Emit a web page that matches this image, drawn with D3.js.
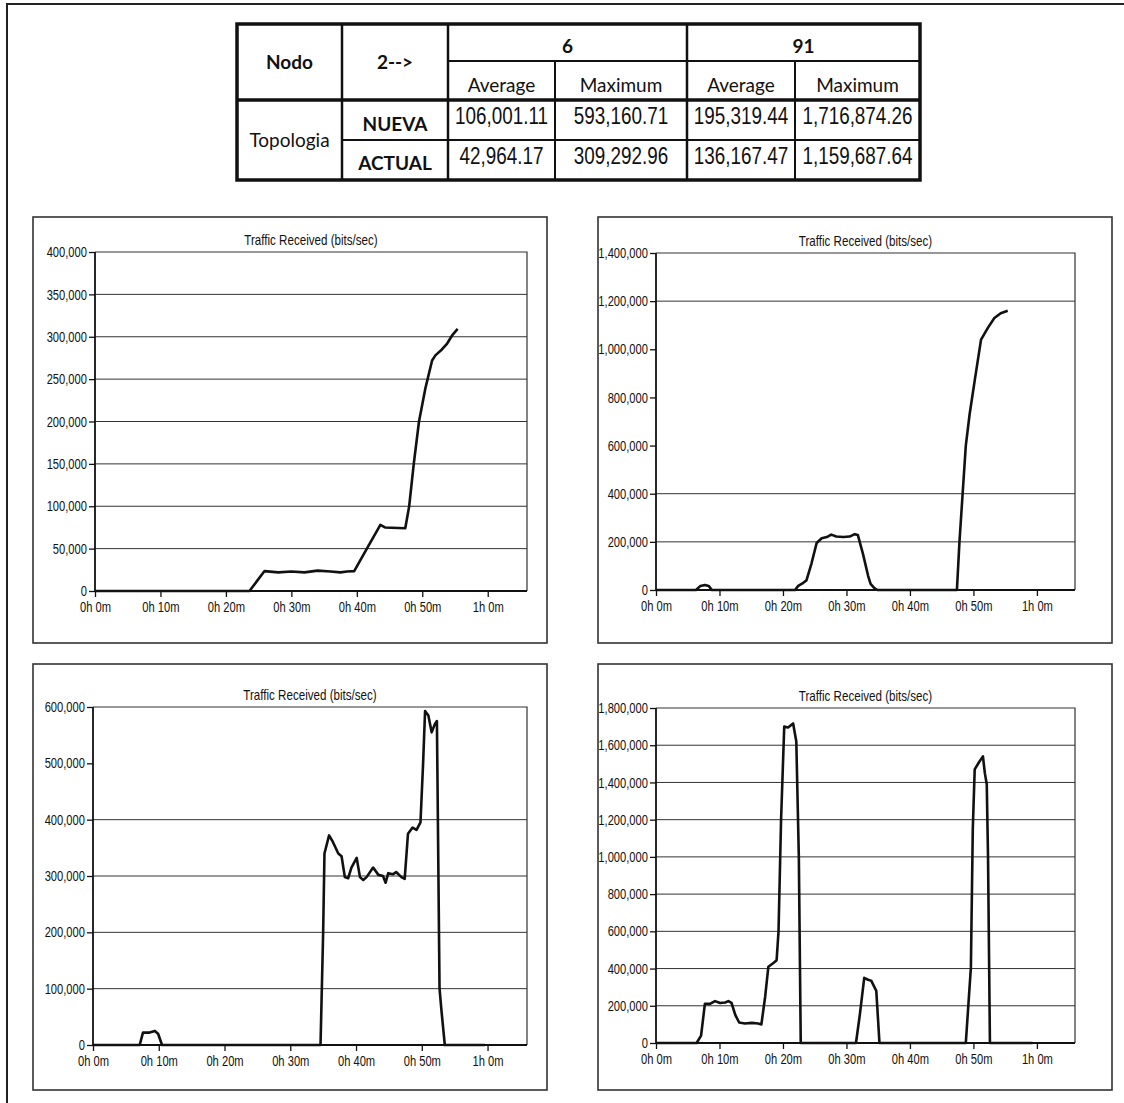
<!DOCTYPE html>
<html>
<head>
<meta charset="utf-8">
<script src="https://cdn.jsdelivr.net/npm/d3@7"></script>
<style>
  body { margin: 0; background: #fff; }
  svg { display: block; }
  .tick text { font-family: "Liberation Sans", Arial, sans-serif; font-size: 14.5px; fill: #111; }
  .tick line { stroke: #111; stroke-width: 1.3; }
  .title { font-family: "Liberation Sans", Arial, sans-serif; font-size: 14.5px; fill: #111; }
  .hdr { font-family: Lato, "Open Sans", sans-serif; font-size: 19px; fill: #111; }
  .num { font-family: "Liberation Sans", Arial, sans-serif; font-size: 23px; fill: #111; }
</style>
</head>
<body>
<svg width="1124" height="1103"></svg>
<script>
// ---- table data ----
const tableNodes = ["6", "91"];
const tableMetrics = ["Average", "Maximum"];
const tableRows = ["NUEVA", "ACTUAL"];
const nuevaStats = [106001.11, 593160.71, 195319.44, 1716874.26];
const actualStats = [42964.17, 309292.96, 136167.47, 1159687.64];

// ---- axis ticks ----
const timeTicks = [0, 10, 20, 30, 40, 50, 60];
const timeLabels = ["0h 0m", "0h 10m", "0h 20m", "0h 30m", "0h 40m", "0h 50m", "1h 0m"];
const ticksA6 = [0, 50000, 100000, 150000, 200000, 250000, 300000, 350000, 400000];
const ticksA91 = [0, 200000, 400000, 600000, 800000, 1000000, 1200000, 1400000];
const ticksN6 = [0, 100000, 200000, 300000, 400000, 500000, 600000];
const ticksN91 = [0, 200000, 400000, 600000, 800000, 1000000, 1200000, 1400000, 1600000, 1800000];
// gridlines that show in the scan
const gridA6 = [50000, 100000, 150000, 200000, 250000, 300000, 350000];
const gridA91 = [200000, 400000, 1200000];
const gridN6 = [100000, 200000, 300000, 400000];
const gridN91 = [200000, 400000, 600000, 800000, 1000000, 1200000, 1400000, 1600000];

// ---- series: minutes / bits per sec ----
// node 6, topologia actual
const a6Time = [0, 23.6, 25.9, 28, 30, 32, 34, 36, 37.5, 38.5, 39.6, 41.6, 43.6, 44.3, 47.4, 48, 48.7, 49.5, 50.5, 51.5, 52, 53, 53.8, 54.6, 55.4];
const a6Value = [0, 0, 23500, 22000, 23000, 22000, 24000, 23000, 22000, 23000, 23500, 51000, 78000, 75000, 74000, 100000, 150000, 200000, 240000, 272000, 278000, 285000, 292000, 302000, 309300];
// node 91, topologia actual
const a91Time = [0, 6.3, 7.0, 7.7, 8.3, 8.8, 21.9, 22.4, 23.2, 23.7, 24.5, 25.3, 26.1, 26.9, 27.6, 28.4, 29.5, 30.5, 31.3, 31.8, 32.6, 33.4, 33.8, 34.4, 34.9, 47.4, 47.8, 48.3, 48.8, 49.4, 50.2, 51.2, 52.3, 53.3, 54.3, 55.4];
const a91Value = [0, 0, 17000, 21000, 17000, 0, 0, 17000, 30000, 40000, 111000, 195000, 215000, 220000, 230000, 222000, 220000, 222000, 232000, 228000, 150000, 60000, 25000, 8000, 0, 0, 200000, 400000, 600000, 730000, 870000, 1040000, 1090000, 1130000, 1150000, 1160000];
// node 6, topologia nueva
const n6Time = [0, 7.1, 7.6, 8.6, 9.4, 9.9, 10.5, 34.6, 35.0, 35.2, 35.9, 36.5, 37.3, 37.8, 38.3, 38.8, 39.3, 40.1, 40.6, 41.1, 41.6, 42.6, 43.4, 44.1, 44.5, 44.9, 45.6, 46.1, 46.9, 47.4, 47.9, 48.6, 49.2, 49.8, 50.2, 50.5, 51.0, 51.5, 52.0, 52.3, 52.7, 53.0, 53.5, 59.6];
const n6Value = [0, 0, 22000, 22000, 25000, 20000, 0, 0, 200000, 340000, 372000, 360000, 340000, 335000, 298000, 296000, 315000, 332000, 298000, 293000, 298000, 315000, 302000, 300000, 288000, 305000, 303000, 307000, 298000, 295000, 375000, 386000, 382000, 395000, 500000, 593000, 585000, 555000, 570000, 575000, 100000, 60000, 0, 0];
// node 91, topologia nueva
const n91Time = [0, 6.4, 7.1, 7.7, 8.5, 9.3, 10.1, 10.9, 11.4, 11.9, 12.5, 13.1, 14.0, 15.1, 16.1, 16.6, 17.2, 17.7, 18.5, 19.0, 19.3, 19.7, 20.2, 20.8, 21.6, 22.1, 22.5, 22.8, 31.5, 32.1, 32.8, 33.4, 33.9, 34.7, 35.2, 48.8, 49.6, 49.9, 50.2, 50.9, 51.5, 51.8, 52.1, 52.3, 52.6, 59.3];
const n91Value = [0, 0, 40000, 210000, 210000, 225000, 215000, 218000, 225000, 215000, 150000, 110000, 105000, 108000, 105000, 100000, 250000, 410000, 430000, 445000, 600000, 1200000, 1700000, 1695000, 1717000, 1620000, 1000000, 0, 0, 150000, 350000, 340000, 335000, 280000, 0, 0, 405000, 1150000, 1470000, 1510000, 1540000, 1450000, 1390000, 1000000, 0, 0];

const svg = d3.select("svg");

// squeeze text horizontally (no narrow font installed)
const narrow = (sel, k) => sel.each(function () {
  const w = this.getComputedTextLength();
  d3.select(this).attr("textLength", w * k).attr("lengthAdjust", "spacingAndGlyphs");
});

// page frame (top and left edge of the scan)
svg.append("path")
  .attr("d", "M7,1103 V4 H1124")
  .attr("fill", "none")
  .attr("stroke", "#222")
  .attr("stroke-width", 2);

// ---- table ----
const cx = [237, 342, 448, 555, 687, 795, 920];
const ry = [24, 61, 100, 140, 180];
const fmt2 = d3.format(",.2f");
const tbl = svg.append("g").attr("class", "table");

const hline = (x1, x2, y, w) => tbl.append("line").attr("x1", x1).attr("x2", x2).attr("y1", y).attr("y2", y).attr("stroke", "#111").attr("stroke-width", w);
const vline = (x, y1, y2, w) => tbl.append("line").attr("x1", x).attr("x2", x).attr("y1", y1).attr("y2", y2).attr("stroke", "#111").attr("stroke-width", w);

hline(cx[2], cx[6], ry[1], 2);
hline(cx[1], cx[6], ry[3], 2);
hline(cx[0], cx[6], ry[2], 3.5);
vline(cx[1], ry[0], ry[4], 2.5);
vline(cx[2], ry[0], ry[4], 2.5);
vline(cx[3], ry[1], ry[4], 2);
vline(cx[4], ry[0], ry[4], 2.5);
vline(cx[5], ry[1], ry[4], 2);
tbl.append("rect")
  .attr("x", cx[0]).attr("y", ry[0])
  .attr("width", cx[6] - cx[0]).attr("height", ry[4] - ry[0])
  .attr("fill", "none").attr("stroke", "#111").attr("stroke-width", 3.5);

const cellText = (x, y, txt, cls, bold) => tbl.append("text")
  .attr("class", cls)
  .attr("x", x).attr("y", y)
  .attr("text-anchor", "middle")
  .attr("font-weight", bold ? "bold" : "normal")
  .text(txt);

cellText((cx[0] + cx[1]) / 2, 69, "Nodo", "hdr", true);
cellText((cx[1] + cx[2]) / 2, 69, "2-->", "hdr", true);
tableNodes.forEach((n, i) => {
  cellText((cx[2 + i * 2] + cx[4 + i * 2]) / 2, 53, n, "hdr", true);
  tableMetrics.forEach((m, j) => {
    const k = 2 + i * 2 + j;
    cellText((cx[k] + cx[k + 1]) / 2, 92, m, "hdr", false);
  });
});
cellText((cx[0] + cx[1]) / 2, 147, "Topologia", "hdr", false);
[nuevaStats, actualStats].forEach((stats, r) => {
  cellText((cx[1] + cx[2]) / 2, 131 + r * 39, tableRows[r], "hdr", true);
  stats.forEach((v, k) => {
    cellText((cx[k + 2] + cx[k + 3]) / 2, 124 + r * 40, fmt2(v), "num", false);
  });
});

// ---- charts ----
const charts = [
  { panel: [33, 217], plot: [95, 527, 252, 591], ticks: ticksA6, grid: gridA6, t: a6Time, v: a6Value },
  { panel: [598, 217], plot: [656, 1075, 253, 590], ticks: ticksA91, grid: gridA91, t: a91Time, v: a91Value },
  { panel: [33, 664], plot: [93, 527, 707, 1045], ticks: ticksN6, grid: gridN6, t: n6Time, v: n6Value },
  { panel: [598, 664], plot: [656, 1075, 708, 1043], ticks: ticksN91, grid: gridN91, t: n91Time, v: n91Value }
];

charts.forEach(c => {
  const [x0, x1, y0, y1] = c.plot;
  const g = svg.append("g").attr("class", "chart");

  g.append("rect")
    .attr("x", c.panel[0]).attr("y", c.panel[1])
    .attr("width", 514).attr("height", 426)
    .attr("fill", "none").attr("stroke", "#333").attr("stroke-width", 1.6);

  const x = d3.scaleLinear().domain([0, 66]).range([x0, x1]);
  const y = d3.scaleLinear().domain([0, d3.max(c.ticks)]).range([y1, y0]);

  // gridlines
  g.selectAll("line.grid")
    .data(c.grid)
    .join("line")
    .attr("class", "grid")
    .attr("x1", x0).attr("x2", x1)
    .attr("y1", d => y(d)).attr("y2", d => y(d))
    .attr("stroke", "#333").attr("stroke-width", 1);

  // plot frame top / right
  g.append("path")
    .attr("d", `M${x0},${y0} H${x1} V${y1}`)
    .attr("fill", "none").attr("stroke", "#333").attr("stroke-width", 1.2);

  const axisY = d3.axisLeft(y)
    .tickValues(c.ticks)
    .tickSize(6)
    .tickPadding(2)
    .tickFormat(d3.format(","));
  g.append("g").attr("transform", `translate(${x0},0)`).call(axisY)
    .call(a => a.select(".domain").remove());

  const axisX = d3.axisBottom(x)
    .tickValues(timeTicks)
    .tickSize(6)
    .tickPadding(5)
    .tickFormat((d, i) => timeLabels[i]);
  g.append("g").attr("transform", `translate(0,${y1})`).call(axisX)
    .call(a => a.select(".domain").remove());

  // axis lines
  g.append("path")
    .attr("d", `M${x0},${y0} V${y1} H${x1}`)
    .attr("fill", "none").attr("stroke", "#111").attr("stroke-width", 1.8);

  g.append("text")
    .attr("class", "title")
    .attr("x", (x0 + x1) / 2).attr("y", y0 - 7)
    .attr("text-anchor", "middle")
    .text("Traffic Received (bits/sec)");

  const line = d3.line()
    .x((d, i) => x(c.t[i]))
    .y(d => y(d));

  g.append("path")
    .datum(c.v)
    .attr("d", line)
    .attr("fill", "none")
    .attr("stroke", "#111")
    .attr("stroke-width", 2.6)
    .attr("stroke-linejoin", "round");
});

narrow(svg.selectAll(".tick text"), 0.77);
narrow(svg.selectAll("text.title"), 0.8);
narrow(svg.selectAll("text.num"), 0.82);
</script>
</body>
</html>
